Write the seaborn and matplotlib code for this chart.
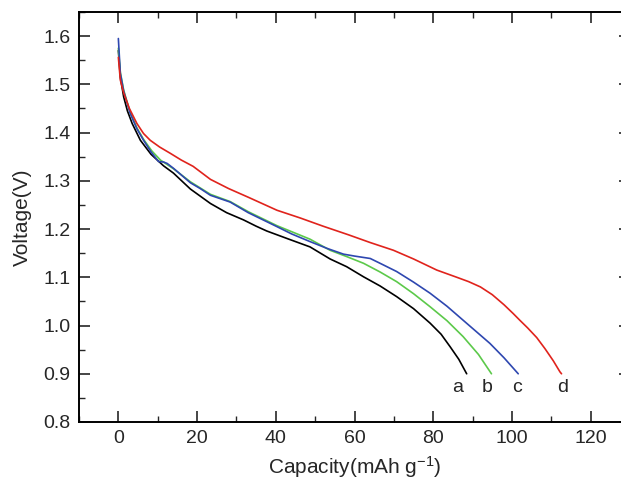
import matplotlib
matplotlib.use("Agg")
import matplotlib.pyplot as plt
import seaborn as sns
import pandas as pd
from matplotlib.ticker import MultipleLocator

sns.set_style("ticks")
plt.rcParams['font.family'] = ['Liberation Sans', 'DejaVu Sans']
plt.rcParams['mathtext.fontset'] = 'custom'
plt.rcParams['mathtext.rm'] = 'Liberation Sans'
plt.rcParams['mathtext.it'] = 'Liberation Sans'
plt.rcParams['mathtext.default'] = 'regular'

# Discharge curves: capacity (mAh g^-1), voltage (V)
cap_a = [0, 0.5, 1.35, 2.3, 3.5, 5.6, 8.3, 11.5, 14, 18.3, 23.4, 27.5, 31.8, 35, 37.7, 43, 48.7, 53.8, 58, 62.3, 66.5, 70.7, 75, 79.2, 82, 84.3, 86.5, 88.5]
v_a   = [1.570, 1.515, 1.474, 1.445, 1.419, 1.384, 1.355, 1.331, 1.316, 1.283, 1.253, 1.234, 1.219, 1.206, 1.196, 1.180, 1.163, 1.138, 1.122, 1.101, 1.082, 1.060, 1.035, 1.005, 0.982, 0.956, 0.930, 0.900]

cap_b = [0, 0.5, 1.35, 3.0, 4.7, 6.4, 8.5, 10.7, 14, 18.3, 23.4, 28.4, 33, 40.3, 48.7, 53.8, 58, 62.3, 66.5, 70.7, 75, 79.2, 83.5, 87.6, 91.5, 94.8]
v_b   = [1.575, 1.525, 1.488, 1.442, 1.410, 1.386, 1.362, 1.343, 1.325, 1.298, 1.272, 1.257, 1.236, 1.207, 1.179, 1.156, 1.143, 1.129, 1.111, 1.091, 1.066, 1.039, 1.010, 0.977, 0.940, 0.900]

cap_c = [0, 0.5, 1.35, 3.0, 4.7, 6.4, 8.3, 10.2, 11.5, 12.4, 14, 18.3, 20.8, 23.4, 28.4, 33, 40.3, 44, 48.7, 53, 57.2, 60, 64, 67, 70.7, 75, 79.2, 83.5, 87.6, 91, 94.4, 98, 101.6]
v_c   = [1.595, 1.523, 1.486, 1.440, 1.408, 1.384, 1.360, 1.340, 1.339, 1.336, 1.326, 1.296, 1.284, 1.270, 1.256, 1.234, 1.205, 1.190, 1.174, 1.160, 1.148, 1.144, 1.139, 1.127, 1.112, 1.090, 1.067, 1.040, 1.011, 0.987, 0.963, 0.933, 0.900]

cap_d = [0, 0.5, 1.35, 2.8, 4.7, 6.4, 8.1, 10.5, 13.2, 16, 19, 23.4, 28, 33, 40.3, 46.2, 52, 58.5, 64, 69.9, 75, 80.9, 86, 89, 92, 95, 98, 100.3, 102, 104, 106.3, 108.4, 110.5, 112.2, 112.6]
v_d   = [1.556, 1.509, 1.482, 1.450, 1.419, 1.398, 1.384, 1.370, 1.357, 1.343, 1.330, 1.303, 1.284, 1.266, 1.239, 1.223, 1.206, 1.188, 1.172, 1.156, 1.138, 1.115, 1.100, 1.091, 1.080, 1.064, 1.043, 1.025, 1.011, 0.995, 0.975, 0.952, 0.927, 0.904, 0.900]

labels = ["a", "b", "c", "d"]
colors = ["#000000", "#5cc94a", "#2e47b0", "#e0231c"]
label_x = [86.3, 93.6, 101.4, 113.0]
label_y = [0.872, 0.872, 0.872, 0.872]

frames = []
for lab, c, v in zip(labels, [cap_a, cap_b, cap_c, cap_d], [v_a, v_b, v_c, v_d]):
    frames.append(pd.DataFrame({"cap": c, "volt": v, "sample": lab}))
df = pd.concat(frames, ignore_index=True)

fig = plt.figure(figsize=(6.21, 4.79), dpi=100)
ax = fig.add_axes([79/621, 57/479, (630-79)/621, 410/479])

sns.lineplot(data=df, x="cap", y="volt", hue="sample", palette=colors,
             sort=False, estimator=None, linewidth=1.2, legend=False, ax=ax)

for lab, x, y in zip(labels, label_x, label_y):
    ax.text(x, y, lab, ha="center", va="center", fontsize=14)

ax.set_xlim(-10, 130)
ax.set_ylim(0.8, 1.65)
ax.xaxis.set_minor_locator(MultipleLocator(10))
ax.yaxis.set_minor_locator(MultipleLocator(0.05))
ax.set_yticks([0.8, 0.9, 1.0, 1.1, 1.2, 1.3, 1.4, 1.5, 1.6])
ax.set_yticklabels(["0.8", "0.9", "1.0", "1.1", "1.2", "1.3", "1.4", "1.5", "1.6"])
ax.set_xticks([0, 20, 40, 60, 80, 100, 120])

ax.tick_params(which="major", direction="in", length=8, width=1.2, top=True, right=True, labelsize=14, pad=6)
ax.tick_params(which="minor", direction="in", length=4, width=1.0, top=True, right=True)
for s in ax.spines.values():
    s.set_linewidth(1.4)
    s.set_color("black")

ax.set_xlabel("Capacity(mAh g$^{-1}$)", fontsize=15, labelpad=5)
ax.set_ylabel("Voltage(V)", fontsize=15, labelpad=8)

fig.savefig("out.png", dpi=100)
